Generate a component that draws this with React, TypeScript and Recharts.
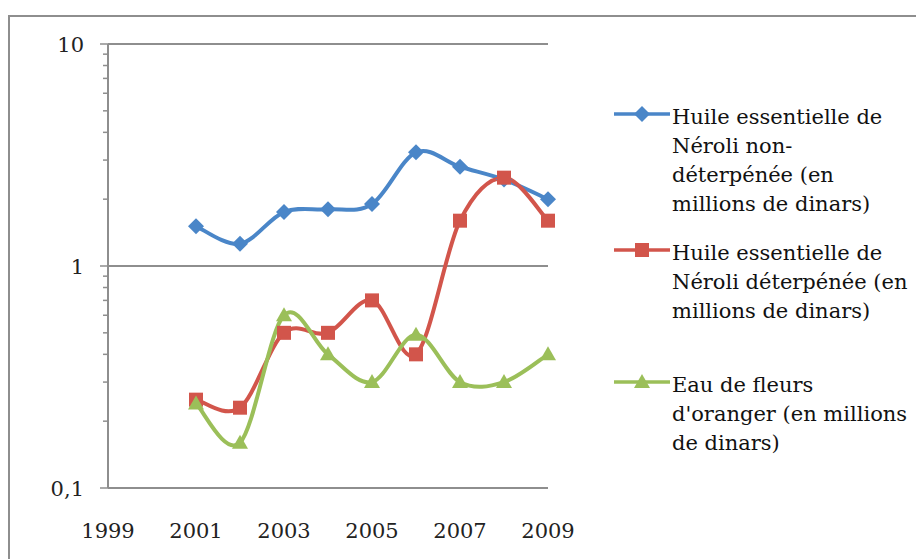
import React from "react";
import { LineChart, Line, XAxis, YAxis, ReferenceLine } from "recharts";

// années et valeurs (millions de dinars, échelle log)
const years = [2001, 2002, 2003, 2004, 2005, 2006, 2007, 2008, 2009];
const neroliNonDet = [1.51, 1.26, 1.75, 1.8, 1.9, 3.25, 2.8, 2.45, 2.0];
const neroliDet = [0.25, 0.23, 0.5, 0.5, 0.7, 0.4, 1.6, 2.5, 1.6];
const eauFleurs = [0.24, 0.16, 0.6, 0.4, 0.3, 0.49, 0.3, 0.3, 0.4];

const xTicks = [1999, 2001, 2003, 2005, 2007, 2009];
const yMajor = [0.1, 1, 10];
const yMinor = [0.2, 0.3, 0.4, 0.5, 0.6, 0.7, 0.8, 0.9, 2, 3, 4, 5, 6, 7, 8, 9];

const names = [
  ["Huile essentielle de", "Néroli non-", "déterpénée (en", "millions de dinars)"],
  ["Huile essentielle de", "Néroli déterpénée (en", "millions de dinars)"],
  ["Eau de fleurs", "d'oranger (en millions", "de dinars)"],
];

const BLUE = "#4A86C8";
const RED = "#D2554B";
const GREEN = "#9BBF59";
const AXIS = "#8E8E8E";
const FONT = "'DejaVu Serif', serif";

const data = years.map((y, i) => ({
  year: y,
  a: neroliNonDet[i],
  b: neroliDet[i],
  c: eauFleurs[i],
}));

// lissage façon Excel (Catmull-Rom -> Bézier)
function smooth(context: any) {
  let pts: number[][] = [];
  return {
    areaStart() {},
    areaEnd() {},
    lineStart() {
      pts = [];
    },
    lineEnd() {
      if (!pts.length) return;
      context.moveTo(pts[0][0], pts[0][1]);
      for (let i = 0; i < pts.length - 1; i++) {
        const p0 = pts[Math.max(i - 1, 0)];
        const p1 = pts[i];
        const p2 = pts[i + 1];
        const p3 = pts[Math.min(i + 2, pts.length - 1)];
        context.bezierCurveTo(
          p1[0] + (p2[0] - p0[0]) / 6,
          p1[1] + (p2[1] - p0[1]) / 6,
          p2[0] - (p3[0] - p1[0]) / 6,
          p2[1] - (p3[1] - p1[1]) / 6,
          p2[0],
          p2[1]
        );
      }
    },
    point(x: number, y: number) {
      pts.push([+x, +y]);
    },
  };
}

const Diamond = ({ cx, cy, fill }: any) => (
  <path d={`M${cx},${cy - 8}L${cx + 8},${cy}L${cx},${cy + 8}L${cx - 8},${cy}Z`} fill={fill} />
);
const Square = ({ cx, cy, fill }: any) => (
  <rect x={cx - 7} y={cy - 7} width={14} height={14} fill={fill} />
);
const Triangle = ({ cx, cy, fill }: any) => (
  <path d={`M${cx},${cy - 8}L${cx + 8},${cy + 6}L${cx - 8},${cy + 6}Z`} fill={fill} />
);

const markers = [Diamond, Square, Triangle];
const colors = [BLUE, RED, GREEN];

const YTick = ({ x, y, payload }: any) => {
  const major = yMajor.includes(payload.value);
  return (
    <g>
      <line x1={x - (major ? 8 : 5)} x2={x} y1={y} y2={y} stroke={AXIS} strokeWidth={1.5} />
      {major && (
        <text x={x - 24} y={y + 8} textAnchor="end" fontFamily={FONT} fontSize={21} fill="#222">
          {String(payload.value).replace(".", ",")}
        </text>
      )}
    </g>
  );
};

const XTick = ({ x, y, payload }: any) => (
  <text x={x} y={y + 50} textAnchor="middle" fontFamily={FONT} fontSize={21} fill="#222">
    {payload.value}
  </text>
);

const entryTops = [0, 136, 268];

const LegendBox = () => (
  <div
    style={{
      position: "absolute",
      left: 604,
      top: 87,
      width: 310,
      height: 400,
      fontFamily: FONT,
      fontSize: 21,
      color: "#111",
    }}
  >
    {names.map((lines, i) => {
      const M = markers[i];
      return (
        <div key={i} style={{ position: "absolute", left: 0, top: entryTops[i] }}>
          <svg width={56} height={20} style={{ position: "absolute", left: 0, top: 0 }}>
            <line x1={0} x2={56} y1={10} y2={10} stroke={colors[i]} strokeWidth={3.5} />
            <M cx={28} cy={10} fill={colors[i]} />
          </svg>
          <div style={{ position: "absolute", left: 58, top: -1, lineHeight: "29px", whiteSpace: "nowrap" }}>
            {lines.map((l, j) => (
              <div key={j}>{l}</div>
            ))}
          </div>
        </div>
      );
    })}
  </div>
);

export default function App() {
  return (
    <div
      style={{
        position: "relative",
        marginTop: 7,
        width: 914,
        height: 542,
        borderTop: `2px solid ${AXIS}`,
        borderLeft: `2px solid ${AXIS}`,
        background: "#fff",
      }}
    >
      <LineChart
        width={914}
        height={542}
        data={data}
        margin={{ top: 27, right: 376, bottom: 31, left: 0 }}
      >
        <XAxis
          dataKey="year"
          type="number"
          domain={[1999, 2009]}
          ticks={xTicks}
          tickSize={0}
          tickMargin={0}
          tick={<XTick />}
          height={40}
          stroke={AXIS}
          strokeWidth={2}
          interval={0}
        />
        <YAxis
          scale="log"
          domain={[0.1, 10]}
          ticks={[...yMajor, ...yMinor]}
          allowDataOverflow
          tickSize={0}
          tickMargin={0}
          tick={<YTick />}
          width={98}
          stroke={AXIS}
          strokeWidth={2}
          interval={0}
        />
        <ReferenceLine y={1} stroke={AXIS} strokeWidth={2} />
        <ReferenceLine y={10} stroke={AXIS} strokeWidth={2} />
        {(["a", "b", "c"] as const).map((k, i) => {
          const M = markers[i];
          return (
            <Line
              key={k}
              dataKey={k}
              name={names[i].join(" ")}
              type={smooth as any}
              stroke={colors[i]}
              strokeWidth={4}
              dot={(p: any) => <M key={p.index} cx={p.cx} cy={p.cy} fill={colors[i]} />}
              activeDot={false}
              isAnimationActive={false}
            />
          );
        })}
      </LineChart>
      <LegendBox />
    </div>
  );
}
